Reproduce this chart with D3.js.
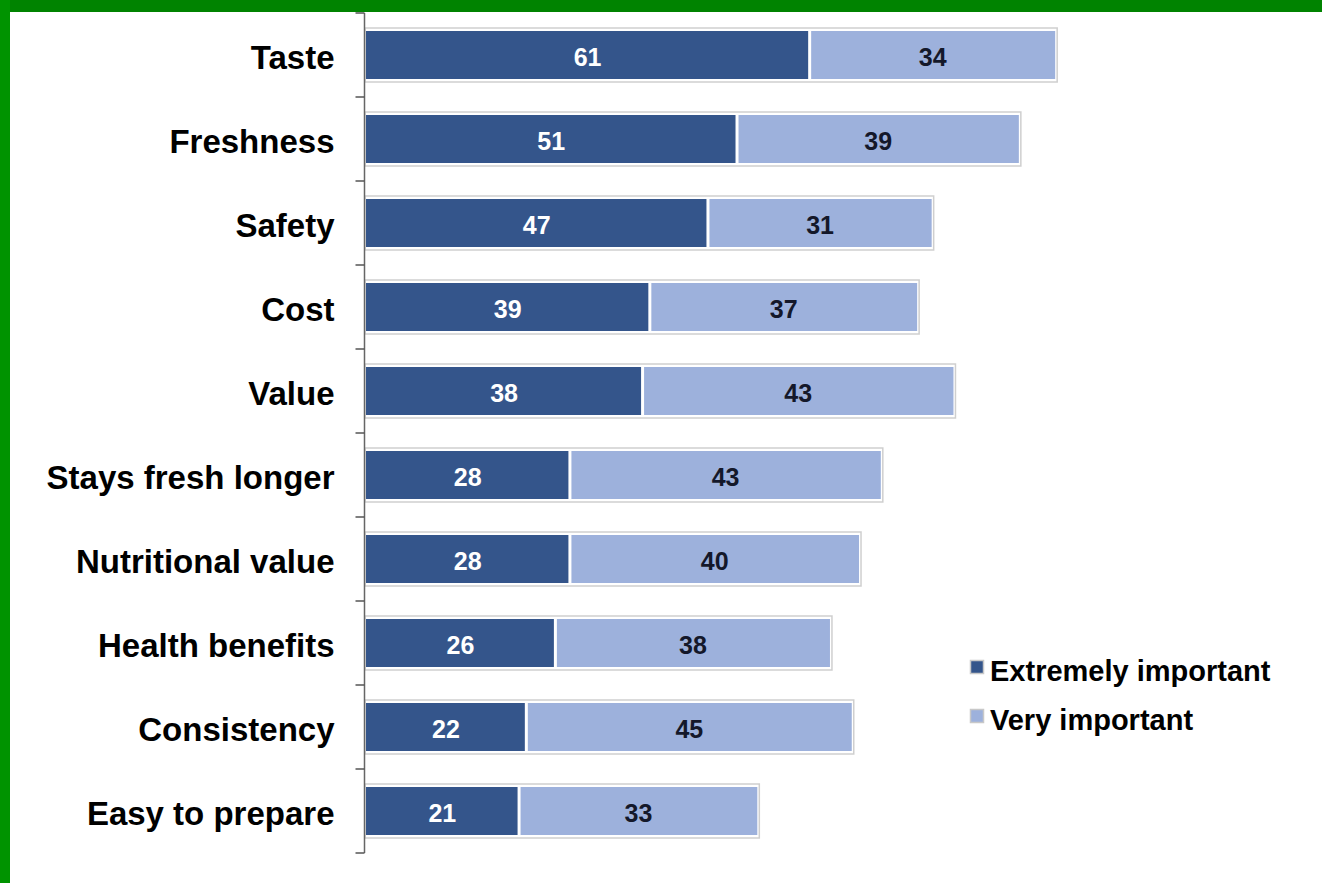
<!DOCTYPE html>
<html>
<head>
<meta charset="utf-8">
<script src="https://cdn.jsdelivr.net/npm/d3@7"></script>
<style>
html,body{margin:0;padding:0;background:#fff;}
svg{display:block;}
text{font-family:"Liberation Sans",Arial,sans-serif;font-weight:bold;}
</style>
</head>
<body>
<svg id="chart" width="1322" height="883"></svg>
<script>
const categories = ["Taste","Freshness","Safety","Cost","Value","Stays fresh longer","Nutritional value","Health benefits","Consistency","Easy to prepare"];
const extremely = [61,51,47,39,38,28,28,26,22,21];
const very = [34,39,31,37,43,43,40,38,45,33];
const seriesNames = ["Extremely important","Very important"];
const colors = ["#34558b","#9db1dc"];

const svg = d3.select("#chart");
// frame
svg.append("rect").attr("x",0).attr("y",0).attr("width",1322).attr("height",12).attr("fill","#008300");
svg.append("rect").attr("x",0).attr("y",0).attr("width",10).attr("height",883).attr("fill","#009300");

const axisX = 364.5;
const x0 = 366;
const x = d3.scaleLinear().domain([0,100]).range([x0, x0 + 726.5]);
const y = d3.scaleBand().domain(categories).range([13,853]).paddingInner(0).paddingOuter(0);

const data = categories.map((c,i)=>({cat:c, e:extremely[i], v:very[i]}));
const barH = 48, pad = 3;

const g = svg.append("g");
const rows = g.selectAll("g.row").data(data).join("g").attr("class","row");

rows.append("rect")
  .attr("x", x(0)-1)
  .attr("y", d => y(d.cat) + y.bandwidth()/2 - barH/2 - pad)
  .attr("width", d => x(d.e + d.v) - x(0) + 2)
  .attr("height", barH + 2*pad)
  .attr("fill","#fff").attr("stroke","#cfcfcf").attr("stroke-width",1.5);

rows.append("rect")
  .attr("x", x(0))
  .attr("y", d => y(d.cat) + y.bandwidth()/2 - barH/2)
  .attr("width", d => x(d.e) - x(0) - 1)
  .attr("height", barH)
  .attr("fill", colors[0]);

rows.append("rect")
  .attr("x", d => x(d.e) + 2)
  .attr("y", d => y(d.cat) + y.bandwidth()/2 - barH/2)
  .attr("width", d => x(d.e + d.v) - x(d.e) - 3)
  .attr("height", barH)
  .attr("fill", colors[1]);

rows.append("text")
  .attr("x", d => (x(0) + x(d.e))/2)
  .attr("y", d => y(d.cat) + y.bandwidth()/2 + 2)
  .attr("dy","0.36em").attr("text-anchor","middle")
  .attr("font-size",25).attr("fill","#fff")
  .text(d => d.e);

rows.append("text")
  .attr("x", d => (x(d.e) + x(d.e + d.v))/2)
  .attr("y", d => y(d.cat) + y.bandwidth()/2 + 2)
  .attr("dy","0.36em").attr("text-anchor","middle")
  .attr("font-size",25).attr("fill","#14182a")
  .text(d => d.v);

// axis
const axis = d3.axisLeft(y).tickSize(0).tickPadding(30);
const ax = svg.append("g").attr("transform",`translate(${axisX},0)`).call(axis);
ax.select(".domain").remove();
ax.selectAll(".tick text").attr("font-size",33).attr("fill","#000").attr("dy","0.37em")
  .attr("font-family","Liberation Sans, Arial, sans-serif").attr("font-weight","bold")
  .attr("transform","translate(0,2)");
ax.append("line").attr("x1",0).attr("x2",0).attr("y1",13).attr("y2",853).attr("stroke","#666").attr("stroke-width",1.5);
const bounds = categories.map(c => y(c)).concat([y.range()[1]]);
ax.selectAll("line.tk").data(bounds).join("line").attr("class","tk")
  .attr("x1",-9).attr("x2",0).attr("y1",d=>d).attr("y2",d=>d)
  .attr("stroke","#555").attr("stroke-width",1.5);

// legend
const lg = svg.append("g").attr("transform","translate(970,660)");
seriesNames.forEach((n,i)=>{
  const gy = i*49;
  lg.append("rect").attr("x",0.5).attr("y",gy+0.5).attr("width",13).attr("height",13)
    .attr("fill",colors[i]).attr("stroke","#c8c8c8").attr("stroke-width",1.5);
  lg.append("text").attr("x",20).attr("y",gy+11).attr("dy","0.36em")
    .attr("font-size",29).attr("fill","#000").text(n);
});
</script>
</body>
</html>
